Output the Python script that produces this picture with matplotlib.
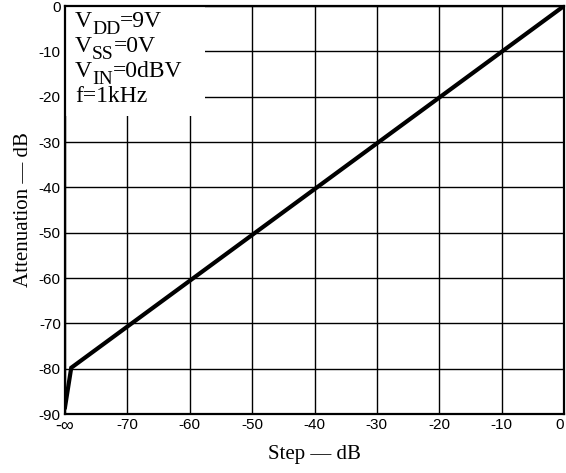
import matplotlib.pyplot as plt
from matplotlib.patches import Rectangle

# Data
step_db = [-80, -79, 0]
atten_db = [-88.5, -79.8, 0]

x_ticks = [-80, -70, -60, -50, -40, -30, -20, -10, 0]
x_labels = ["-\u221e", "-70", "-60", "-50", "-40", "-30", "-20", "-10", "0"]
y_ticks = [0, -10, -20, -30, -40, -50, -60, -70, -80, -90]
y_labels = ["0", "-10", "-20", "-30", "-40", "-50", "-60", "-70", "-80", "-90"]
# (main, subscript, rest)
notes = [("V", "DD", "=9V"), ("V", "SS", "=0V"), ("V", "IN", "=0dBV"), ("f=1kHz", "", "")]

fig = plt.figure(figsize=(5.66, 4.73), dpi=100)
ax = fig.add_axes([65 / 566, 59 / 473, 499 / 566, 408 / 473])

ax.set_xlim(-80, 0)
ax.set_ylim(-90, 0)
ax.set_xticks(x_ticks)
ax.set_xticklabels(x_labels, family="Liberation Sans", fontsize=11)
ax.set_yticks(y_ticks)
ax.set_yticklabels(y_labels, family="Liberation Sans", fontsize=11)
ax.tick_params(length=0, pad=3)
ax.get_xticklabels()[0].set_fontsize(13)
ax.get_xticklabels()[-1].set_horizontalalignment("right")
ax.grid(True, color="black", linewidth=1.0, zorder=1)
ax.set_axisbelow(True)

for s in ax.spines.values():
    s.set_linewidth(1.6)

# white area behind the condition notes
ax.add_patch(Rectangle((-80, -24.2), 22.4, 24.2, facecolor="white",
                       edgecolor="none", zorder=1.5))

ax.plot(step_db, atten_db, color="black", linewidth=3, zorder=3,
        solid_joinstyle="miter")

serif = "Liberation Serif"
for i, (main, sub, rest) in enumerate(notes):
    t = ax.text(-78.4, -4.7 - i * 5.5, main, family=serif, fontsize=17,
                va="baseline", ha="left", zorder=4)
    if sub:
        s = ax.annotate(sub, xy=(1, 0), xycoords=t, xytext=(0, -4),
                        textcoords="offset points", family=serif, fontsize=14,
                        va="bottom", ha="left", zorder=4)
        ax.annotate(rest, xy=(1, 0), xycoords=s, xytext=(0, 4),
                    textcoords="offset points", family=serif, fontsize=17,
                    va="bottom", ha="left", zorder=4)

ax.set_xlabel("Step \u2014 dB", family=serif, fontsize=15, labelpad=7)
ax.set_ylabel("Attenuation \u2014 dB", family=serif, fontsize=15, labelpad=4)

plt.savefig("out.png", dpi=100)
